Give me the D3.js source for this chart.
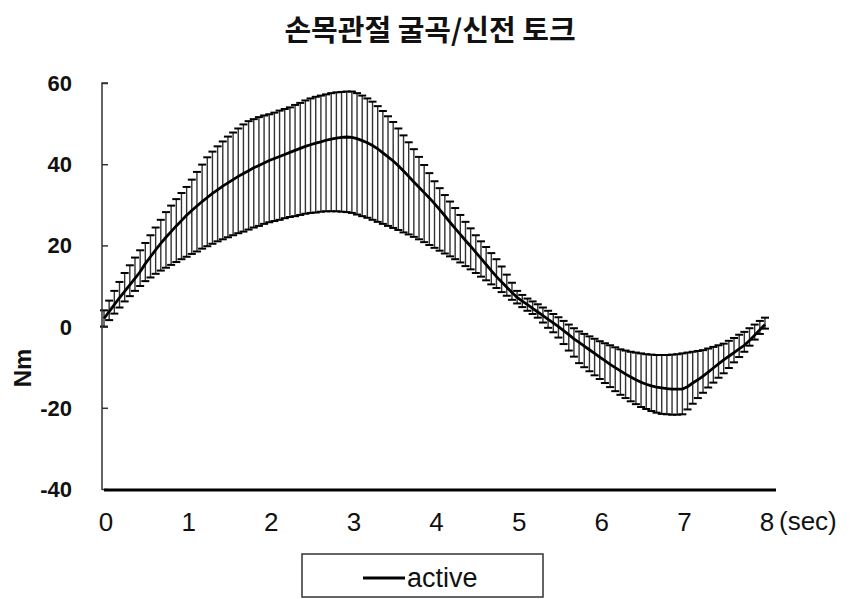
<!DOCTYPE html>
<html>
<head>
<meta charset="utf-8">
<script src="https://cdn.jsdelivr.net/npm/d3@7"></script>
<style>
  html, body { margin: 0; padding: 0; background: #ffffff; }
  svg { display: block; }
</style>
</head>
<body>
<svg id="chart" width="857" height="599"></svg>
<script>
// ---- data ----
const title = "손목관절 굴곡/신전 토크";
const yLabel = "Nm";
const xUnit = "(sec)";
const seriesName = "active";
const xTicks = [0, 1, 2, 3, 4, 5, 6, 7, 8];
const yTicks = [60, 40, 20, 0, -20, -40];
const step = 0.0625; // sampling interval in seconds

const meanValues = [
  2.0, 3.7, 5.4, 7.1,   8.7, 10.3, 11.9, 13.5,   15.5, 17.2, 18.9, 20.5,   22.0, 23.4, 24.8, 26.1,
  27.4, 28.6, 29.7, 30.8,   31.8, 32.8, 33.7, 34.6,   35.4, 36.2, 37.0, 37.7,   38.4, 39.1, 39.7, 40.3,
  40.9, 41.4, 41.9, 42.4,   42.9, 43.4, 43.9, 44.4,   44.8, 45.2, 45.5, 45.9,   46.2, 46.4, 46.6, 46.7,
  46.6, 46.3, 45.8, 45.3,   44.6, 43.8, 42.8, 41.8,   40.8, 39.6, 38.3, 37.0,   35.6, 34.3, 33.0, 31.7,
  30.3, 28.8, 27.3, 25.7,   24.2, 22.7, 21.2, 19.8,   18.3, 16.8, 15.3, 13.8,   12.3, 11.0, 9.7, 8.4,
  7.2, 6.3, 5.4, 4.5,   3.6, 2.7, 1.8, 0.9,   0.0, -1.0, -2.0, -3.0,   -3.9, -4.8, -5.7, -6.6,
  -7.5, -8.4, -9.3, -10.1,   -10.9, -11.7, -12.4, -13.1,   -13.7, -14.2, -14.6, -14.9,   -15.1, -15.3, -15.4, -15.4,
  -15.4, -14.8, -13.9, -13.1,   -12.2, -11.2, -10.2, -9.2,   -8.2, -7.3, -6.4, -5.5,   -4.6, -3.4, -2.1, -0.8,
  0.5
];
const upperValues = [
  4.0, 6.4, 8.8, 11.0,   13.2, 15.1, 17.0, 18.8,   20.6, 22.5, 24.4, 26.3,   28.2, 29.8, 31.4, 32.9,
  34.4, 36.2, 38.1, 39.9,   41.7, 43.1, 44.4, 45.6,   46.8, 47.8, 48.8, 49.8,   50.6, 51.1, 51.6, 52.0,
  52.3, 52.7, 53.2, 53.6,   54.0, 54.6, 55.1, 55.7,   56.2, 56.6, 56.9, 57.2,   57.5, 57.7, 57.8, 57.9,
  57.9, 57.5, 56.9, 56.2,   55.4, 54.3, 53.1, 51.8,   50.4, 48.8, 47.1, 45.4,   43.7, 41.8, 39.8, 37.8,
  35.8, 34.1, 32.4, 30.8,   29.2, 27.5, 25.8, 24.2,   22.5, 21.0, 19.6, 18.1,   16.6, 14.8, 12.8, 10.8,
  8.8, 7.8, 6.9, 6.2,   5.5, 4.7, 3.9, 3.1,   2.3, 1.4, 0.5, -0.4,   -1.2, -1.8, -2.4, -3.0,
  -3.6, -4.1, -4.6, -5.1,   -5.6, -5.9, -6.2, -6.4,   -6.6, -6.8, -6.9, -7.0,   -7.0, -7.0, -6.9, -6.8,
  -6.6, -6.4, -6.2, -6.0,   -5.8, -5.4, -5.0, -4.6,   -4.2, -3.5, -2.8, -2.0,   -1.3, -0.4, 0.5, 1.4,
  2.2
];
const lowerValues = [
  0.0, 1.6, 3.2, 4.7,   6.2, 7.5, 8.8, 10.0,   11.2, 12.1, 13.0, 13.8,   14.5, 15.2, 15.9, 16.6,
  17.2, 17.9, 18.5, 19.2,   19.8, 20.4, 21.0, 21.5,   22.0, 22.5, 23.0, 23.4,   23.9, 24.4, 24.8, 25.3,
  25.7, 26.0, 26.3, 26.7,   27.0, 27.2, 27.5, 27.8,   28.0, 28.1, 28.3, 28.4,   28.4, 28.4, 28.3, 28.2,
  28.0, 27.6, 27.2, 26.8,   26.3, 25.8, 25.3, 24.8,   24.3, 23.8, 23.2, 22.7,   22.1, 21.5, 20.8, 20.1,
  19.4, 18.7, 18.0, 17.3,   16.6, 15.8, 14.9, 14.1,   13.2, 12.3, 11.4, 10.4,   9.5, 8.5, 7.6, 6.6,
  5.7, 4.8, 3.9, 3.1,   2.2, 1.0, -0.3, -1.4,   -2.7, -4.3, -5.9, -7.4,   -9.0, -10.0, -11.0, -12.0,
  -12.9, -13.9, -14.9, -15.9,   -16.8, -17.6, -18.4, -19.1,   -19.8, -20.3, -20.8, -21.2,   -21.5, -21.6, -21.7, -21.7,
  -21.6, -20.4, -19.0, -17.6,   -16.3, -15.0, -13.8, -12.6,   -11.5, -10.2, -8.8, -7.5,   -6.2, -4.7, -3.2, -1.8,
  -0.5
];

// ---- build rows ----
const rows = meanValues.map((m, i) => ({
  t: i * step, mean: m, upper: upperValues[i], lower: lowerValues[i]
}));

const svg = d3.select("#chart");
const x = d3.scaleLinear().domain([0, 8]).range([104, 765]);
const y = d3.scaleLinear().domain([-40, 60]).range([489, 83]);

// title
svg.append("text")
  .attr("x", 430).attr("y", 41)
  .attr("text-anchor", "middle")
  .attr("font-family", "'Noto Sans CJK KR', sans-serif")
  .attr("font-weight", "bold")
  .attr("font-size", 29)
  .attr("fill", "#111")
  .text(title);

// error bars
const bars = svg.append("g");
bars.selectAll("line.v").data(rows).join("line")
  .attr("class", "v")
  .attr("x1", d => x(d.t)).attr("x2", d => x(d.t))
  .attr("y1", d => y(d.upper)).attr("y2", d => y(d.lower))
  .attr("stroke", "#333").attr("stroke-width", 1.4);
bars.selectAll("line.cu").data(rows).join("line")
  .attr("class", "cu")
  .attr("x1", d => x(d.t) - 4).attr("x2", d => x(d.t) + 4)
  .attr("y1", d => y(d.upper)).attr("y2", d => y(d.upper))
  .attr("stroke", "#000").attr("stroke-width", 2);
bars.selectAll("line.cl").data(rows).join("line")
  .attr("class", "cl")
  .attr("x1", d => x(d.t) - 4).attr("x2", d => x(d.t) + 4)
  .attr("y1", d => y(d.lower)).attr("y2", d => y(d.lower))
  .attr("stroke", "#000").attr("stroke-width", 2);

// mean line
svg.append("path").datum(rows)
  .attr("fill", "none").attr("stroke", "#000").attr("stroke-width", 2.8)
  .attr("d", d3.line().x(d => x(d.t)).y(d => y(d.mean)));

// y axis
const yAxis = d3.axisRight(y).tickValues(yTicks).tickSize(6).tickFormat("");
const gy = svg.append("g").attr("transform", "translate(102,0)").call(yAxis);
gy.select(".domain").attr("stroke", "#333").attr("stroke-width", 1.5)
  .attr("d", `M6,${y(60)}H0V${y(-40) + 1}`);
gy.selectAll(".tick line").attr("stroke", "#333").attr("stroke-width", 1.5);

svg.append("g").selectAll("text").data(yTicks).join("text")
  .attr("x", 72).attr("y", d => y(d) + 8)
  .attr("text-anchor", "end")
  .attr("font-family", "'Liberation Sans', Arial, sans-serif")
  .attr("font-weight", "bold").attr("font-size", 22)
  .attr("fill", "#111")
  .text(d => String(d));

// x axis (thick baseline, no ticks)
svg.append("line")
  .attr("x1", x(0)).attr("x2", 776)
  .attr("y1", 490).attr("y2", 490)
  .attr("stroke", "#000").attr("stroke-width", 3);

svg.append("g").selectAll("text").data(xTicks).join("text")
  .attr("x", d => x(d) + 2).attr("y", 531)
  .attr("text-anchor", "middle")
  .attr("font-family", "'Liberation Sans', Arial, sans-serif")
  .attr("font-size", 26)
  .attr("fill", "#111")
  .text(d => String(d));

svg.append("text")
  .attr("x", 779).attr("y", 530)
  .attr("font-family", "'Liberation Sans', Arial, sans-serif")
  .attr("font-size", 26).attr("fill", "#111")
  .text(xUnit);

// y label
svg.append("text")
  .attr("transform", "translate(31,368) rotate(-90)")
  .attr("text-anchor", "middle")
  .attr("font-family", "'Liberation Sans', Arial, sans-serif")
  .attr("font-weight", "bold").attr("font-size", 24)
  .attr("fill", "#111")
  .text(yLabel);

// legend
const lg = svg.append("g");
lg.append("rect")
  .attr("x", 302).attr("y", 554).attr("width", 241).attr("height", 43)
  .attr("fill", "#fff").attr("stroke", "#333").attr("stroke-width", 1.5);
lg.append("line")
  .attr("x1", 363).attr("x2", 405).attr("y1", 578).attr("y2", 578)
  .attr("stroke", "#000").attr("stroke-width", 3);
lg.append("text")
  .attr("x", 407).attr("y", 587)
  .attr("font-family", "'Liberation Sans', Arial, sans-serif")
  .attr("font-size", 27).attr("fill", "#111")
  .text(seriesName);
</script>
</body>
</html>
